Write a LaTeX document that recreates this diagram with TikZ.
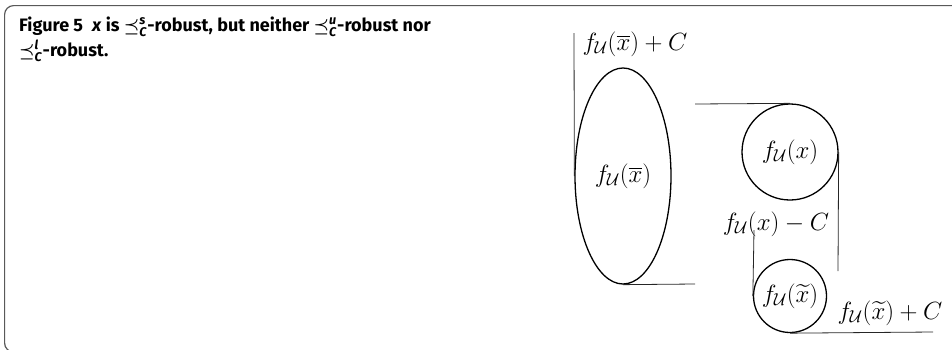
\documentclass[tikz,border=0pt]{standalone}
\usepackage{amsmath}
\usepackage{bm}
\usepackage{fontspec}
\setsansfont{Fira Sans}
\usetikzlibrary{shapes.geometric}
\begin{document}
\begin{tikzpicture}[x=1pt,y=-1pt,
  mathfont/.style={font=\fontsize{24}{26}\selectfont},
  blob/.style={draw,line width=1.3pt,inner sep=0pt,mathfont},
  lbl/.style={inner sep=0pt,mathfont},
  bar/.style={line width=0.8pt,draw=black!85},
  frame/.style={draw=black!65,line width=1.2pt,rounded corners=9pt}]
\useasboundingbox (0,0) rectangle (952,349);
\draw[frame] (970,352) -- (4.6,352) -- (4.6,5.6) -- (970,5.6);
\node[anchor=base west,align=left,inner sep=0pt,font=\sffamily\bfseries\fontsize{18}{25}\selectfont] (cap) at (19,56)
 {Figure 5\enspace\textit{x} is $\bm{\preceq}^{\textbf{\textit{s}}}_{\textbf{\textit{C}}}$-robust, but neither $\bm{\preceq}^{\textbf{\textit{u}}}_{\textbf{\textit{C}}}$-robust nor\\
  $\bm{\preceq}^{\textbf{\textit{l}}}_{\textbf{\textit{C}}}$-robust.};
\node[blob,ellipse,minimum width=96pt,minimum height=216pt] (ell) at (623,176) {$f_{\mathcal{U}}(\overline{x})$};
\node[blob,circle,minimum size=96pt] (c1) at (790,152) {$f_{\mathcal{U}}(x)$};
\node[blob,circle,minimum size=73pt] (c2) at (790,296) {$f_{\mathcal{U}}(\widetilde{x})$};
\coordinate (p1) at (574,33);
\coordinate (p2) at (695,284);
\coordinate (p3) at (695,104);
\coordinate (p4) at (838,271);
\coordinate (p5) at (754,230);
\coordinate (p6) at (933,332);
\draw[bar] (ell.west) -- (p1);
\draw[bar] (ell.south) -- (p2);
\draw[bar] (p3) -- (c1.north);
\draw[bar] (c1.east) -- (p4);
\draw[bar] (c2.west) -- (p5);
\draw[bar] (c2.south) -- (p6);
\node[lbl] (l1) at (635,44) {$f_{\mathcal{U}}(\overline{x})+C$};
\node[lbl] (l2) at (776,224) {$f_{\mathcal{U}}(x)-C$};
\node[lbl] (l3) at (890,313) {$f_{\mathcal{U}}(\widetilde{x})+C$};
\end{tikzpicture}
\end{document}
